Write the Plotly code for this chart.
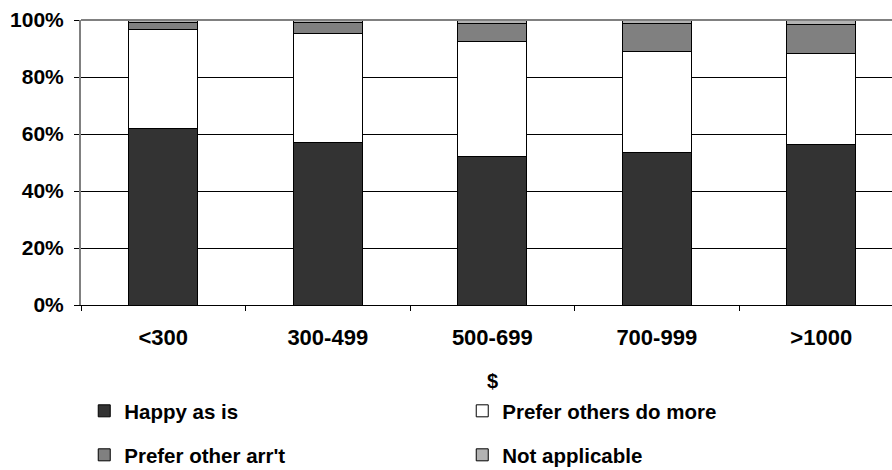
import plotly.graph_objects as go

categories = ["<300", "300-499", "500-699", "700-999", ">1000"]
happy_as_is = [61.9, 57.1, 52.0, 53.6, 56.4]
prefer_others_do_more = [34.8, 38.1, 40.6, 35.3, 31.7]
prefer_other_arrt = [2.6, 4.0, 6.0, 9.7, 10.4]
not_applicable = [0.7, 0.8, 1.4, 1.4, 1.5]
y_ticks = [0, 20, 40, 60, 80, 100]
y_tick_labels = ["0%", "20%", "40%", "60%", "80%", "100%"]

FONT = "Arial, Liberation Sans, sans-serif"

series = [
    ("Happy as is", happy_as_is, "#333333", "legend"),
    ("Prefer others do more", prefer_others_do_more, "#ffffff", "legend"),
    ("Prefer other arr't", prefer_other_arrt, "#808080", "legend2"),
    ("Not applicable", not_applicable, "#b3b3b3", "legend2"),
]

fig = go.Figure()
for name, vals, color, leg in series:
    fig.add_trace(go.Bar(
        x=categories, y=vals, name=name, legend=leg,
        marker=dict(color=color, line=dict(color="#000000", width=1)),
        width=0.42,
    ))

legend_common = dict(
    orientation="h", xanchor="left", yanchor="middle",
    entrywidth=333, entrywidthmode="pixels",
    font=dict(family=FONT, size=20.5, color="#000000", weight="bold"),
    bgcolor="rgba(0,0,0,0)", traceorder="normal",
    yref="container",
)

fig.update_layout(
    width=892, height=470,
    margin=dict(l=81, r=0, t=20, b=165, autoexpand=False),
    barmode="stack",
    paper_bgcolor="#ffffff", plot_bgcolor="#ffffff",
    font=dict(family=FONT, size=20, color="#000000"),
    legend=dict(x=0.004, y=(470 - 411) / 470, **legend_common),
    legend2=dict(x=0.004, y=(470 - 455) / 470, **legend_common),
    xaxis=dict(
        type="category", range=[-0.5, 4.43],
        showgrid=False, showline=True, linecolor="#000000", linewidth=1,
        ticks="outside", tickson="boundaries", ticklen=5, tickcolor="#000000",
        tickfont=dict(family=FONT, size=22, color="#000000", weight="bold"),
        ticklabelstandoff=13,
    ),
    yaxis=dict(
        range=[0, 100], tickvals=y_ticks, ticktext=y_tick_labels,
        showgrid=True, gridcolor="#000000", gridwidth=1,
        showline=True, linecolor="#808080", linewidth=2,
        ticks="outside", ticklen=5, tickcolor="#000000",
        tickfont=dict(family=FONT, size=21, color="#000000", weight="bold"),
        ticklabelstandoff=6, zeroline=False,
    ),
    annotations=[dict(
        text="<b>$</b>", x=2, xref="x", y=-0.2667, yref="paper",
        xanchor="center", yanchor="middle", showarrow=False,
        font=dict(family=FONT, size=20, color="#000000"),
    )],
    shapes=[dict(
        type="line", xref="paper", yref="paper", x0=0, x1=1, y0=1, y1=1,
        line=dict(color="#808080", width=2), layer="above",
    )],
)

fig.write_html("out.html")
